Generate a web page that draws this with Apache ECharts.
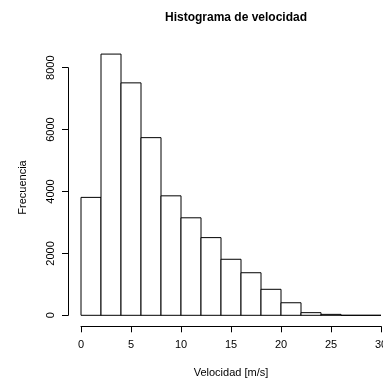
<!DOCTYPE html>
<html>
<head>
<meta charset="utf-8">
<script src="https://cdn.jsdelivr.net/npm/echarts@6/dist/echarts.min.js"></script>
<style>html,body{margin:0;padding:0;background:#fff;}#c{width:383px;height:382px;}</style>
</head>
<body>
<div id="c"></div>
<script>
var binStarts = [0, 2, 4, 6, 8, 10, 12, 14, 16, 18, 20, 22, 24, 26, 28];
var binWidth = 2;
var counts = [3810, 8440, 7510, 5740, 3860, 3150, 2510, 1810, 1375, 840, 405, 85, 30, 0, 0];
var xTicks = [0, 5, 10, 15, 20, 25, 30];
var yTicks = [0, 2000, 4000, 6000, 8000];

var data = binStarts.map(function (s, i) { return [s, s + binWidth, counts[i]]; });
var font = '"Liberation Sans", Arial, Helvetica, sans-serif';

var chart = echarts.init(document.getElementById('c'), null, {renderer: 'canvas'});
chart.setOption({
  animation: false,
  backgroundColor: '#fff',
  title: {
    text: 'Histograma de velocidad',
    left: 231, top: 7, textAlign: 'center',
    textStyle: {fontFamily: font, fontSize: 12, fontWeight: 'bold', color: '#000'}
  },
  grid: {left: 81, right: 2, top: 67.7, bottom: 66.7, containLabel: false, outerBoundsMode: 'none'},
  xAxis: {
    type: 'value', min: xTicks[0], max: xTicks[xTicks.length - 1], interval: 5, offset: 11,
    name: 'Velocidad [m/s]', nameLocation: 'middle', nameGap: 41,
    nameTextStyle: {fontFamily: font, fontSize: 11, color: '#000'},
    axisLine: {show: true, onZero: false, lineStyle: {color: '#000', width: 1}},
    axisTick: {show: true, length: 6, lineStyle: {color: '#000'}},
    axisLabel: {show: true, margin: 13, fontFamily: font, fontSize: 11, color: '#000',
      showMinLabel: true, showMaxLabel: true, hideOverlap: false,
      formatter: function (v) { return String(v); }},
    splitLine: {show: false}
  },
  yAxis: {
    type: 'value', min: yTicks[0], max: yTicks[yTicks.length - 1], interval: 2000, offset: 13,
    name: 'Frecuencia', nameLocation: 'middle', nameGap: 40,
    nameTextStyle: {fontFamily: font, fontSize: 11, color: '#000', padding: [0, 0, 0, 8]},
    axisLine: {show: true, onZero: false, lineStyle: {color: '#000', width: 1}},
    axisTick: {show: true, length: 6, lineStyle: {color: '#000'}},
    axisLabel: {show: true, rotate: 90, margin: 12, fontFamily: font, fontSize: 11, color: '#000',
      formatter: function (v) { return String(v); }},
    splitLine: {show: false}
  },
  series: [{
    type: 'custom',
    clip: false,
    data: data,
    renderItem: function (params, api) {
      var p0 = api.coord([api.value(0), 0]);
      var p1 = api.coord([api.value(1), api.value(2)]);
      return {
        type: 'rect',
        shape: {x: p0[0], y: p1[1], width: p1[0] - p0[0], height: p0[1] - p1[1]},
        style: {fill: '#fff', stroke: '#000', lineWidth: 1}
      };
    }
  }]
});
</script>
</body>
</html>
